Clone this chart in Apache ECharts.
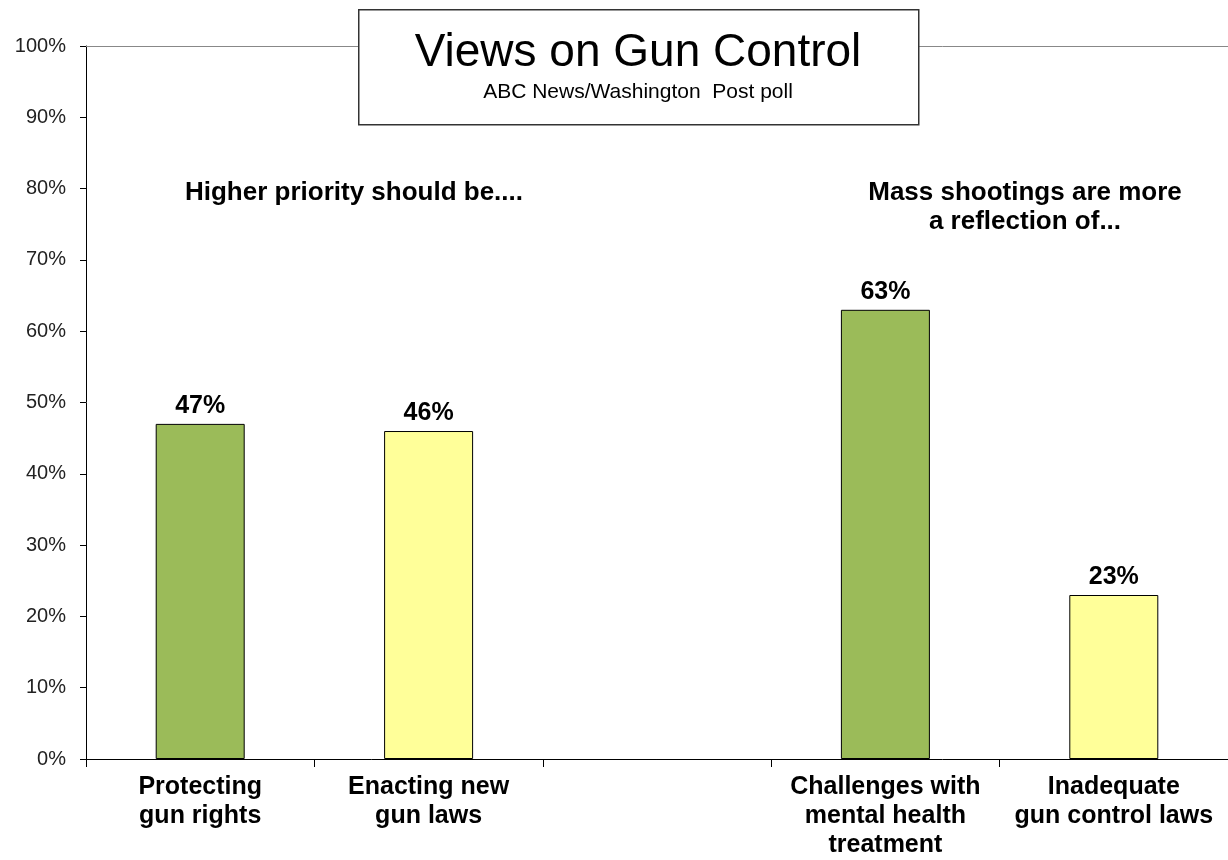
<!DOCTYPE html>
<html>
<head>
<meta charset="utf-8">
<script src="https://cdn.jsdelivr.net/npm/echarts@6/dist/echarts.min.js"></script>
<style>
html,body{margin:0;padding:0;background:#fff;}
#chart{width:1228px;height:860px;}
</style>
</head>
<body>
<div id="chart"></div>
<script>
const categories = ['Protecting\ngun rights', 'Enacting new\ngun laws', '', 'Challenges with\nmental health\ntreatment', 'Inadequate\ngun control laws'];
const values = [47, 46, null, 63, 23];
const barColors = ['#9BBB59', '#FFFF99', '#FFFFFF', '#9BBB59', '#FFFF99'];
const titleText = 'Views on Gun Control';
const subtitleText = 'ABC News/Washington  Post poll';
const noteLeft = 'Higher priority should be....';
const noteRight = 'Mass shootings are more\na reflection of...';

const chart = echarts.init(document.getElementById('chart'), null, {renderer: 'canvas'});
const font = 'Liberation Sans, Arial, sans-serif';
chart.setOption({
  animation: false,
  backgroundColor: '#fff',
  grid: {left: 86, width: 1148, top: 46, bottom: 97, containLabel: false},
  xAxis: [{
    type: 'category',
    data: categories,
    axisLine: {lineStyle: {color: '#000', width: 1}},
    axisTick: {show: true, length: 8, lineStyle: {color: '#000'}, alignWithLabel: false},
    axisLabel: {color: '#000', fontFamily: font, fontWeight: 'bold', fontSize: 25, lineHeight: 29, margin: 14, interval: 0},
  }, {
    type: 'category',
    position: 'top',
    data: categories,
    axisLine: {show: true, lineStyle: {color: '#888', width: 1}},
    axisTick: {show: false},
    axisLabel: {show: false}
  }],
  yAxis: {
    type: 'value', min: 0, max: 100, interval: 10,
    axisLine: {show: true, lineStyle: {color: '#000', width: 1}},
    axisTick: {show: true, length: 6, lineStyle: {color: '#000'}},
    splitLine: {show: false},
    axisLabel: {color: '#222', fontFamily: font, fontSize: 20, margin: 20, formatter: '{value}%'}
  },
  series: [{
    type: 'bar',
    xAxisIndex: 0,
    barWidth: 89,
    data: values.map((v, i) => ({value: v, itemStyle: {color: barColors[i]}})),
    itemStyle: {borderColor: '#000', borderWidth: 1},
    label: {show: true, position: 'top', distance: 5, color: '#000', fontFamily: font, fontWeight: 'bold', fontSize: 25, formatter: p => p.value == null ? '' : p.value + '%'}
  }],
  graphic: [
    {type: 'rect', left: 358, top: 9, shape: {width: 560, height: 115}, style: {fill: '#fff', stroke: '#333', lineWidth: 1.5}, z: 10},
    {type: 'text', x: 638, y: 53, style: {text: titleText, fill: '#000', font: '46px ' + font, textAlign: 'center', textVerticalAlign: 'middle'}, z: 11},
    {type: 'text', x: 638, y: 92, style: {text: subtitleText, fill: '#000', font: '21px ' + font, textAlign: 'center', textVerticalAlign: 'middle'}, z: 11},
    {type: 'text', x: 354, y: 193, style: {text: noteLeft, fill: '#000', font: 'bold 26px ' + font, textAlign: 'center', textVerticalAlign: 'middle'}, z: 11},
    {type: 'text', x: 1025, y: 207, style: {text: noteRight, fill: '#000', font: 'bold 26px ' + font, textAlign: 'center', textVerticalAlign: 'middle', lineHeight: 29}, z: 11}
  ]
});
</script>
</body>
</html>
